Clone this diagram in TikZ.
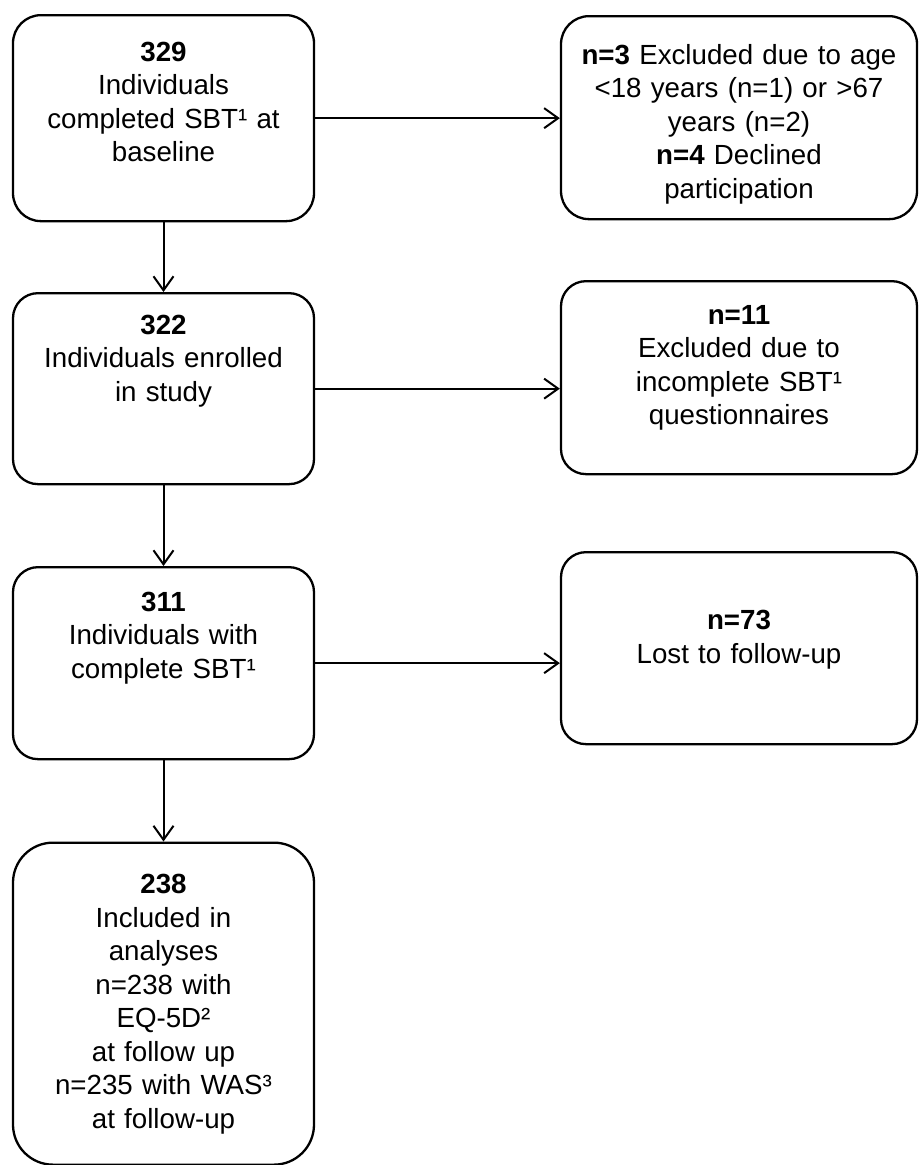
\documentclass[tikz,border=0pt]{standalone}
\usepackage{fontspec}
\setmainfont{Liberation Sans}
\usepackage{tikz}
\usetikzlibrary{arrows.meta}

\tikzset{
    box/.style={draw, line width=2.3pt, rounded corners=25pt, anchor=north, align=center,
        inner xsep=4pt, inner ysep=0pt, font=\fontsize{27.7pt}{33.5pt}\selectfont},
    leftbox/.style={box, text width=293pt},
    rightbox/.style={box, text width=348pt},
    flow/.style={line width=2pt, -{Straight Barb[length=14pt, width=20pt]}}
}

\begin{document}
\begin{tikzpicture}[x=1pt, y=-1pt]
    \useasboundingbox (0,0) rectangle (919,1165);
        \node [leftbox, rounded corners=28pt, text height=46pt, text depth=160pt] (b329) at (163.5,14) {\textbf{329}\\Individuals\\completed SBT¹ at\\baseline};
        \node [rightbox, rounded corners=28pt, text height=48pt, text depth=155pt] (excl1) at (739,15) {\textbf{n=3} Excluded due to age\\<18 years (n=1) or >67\\years (n=2)\\\textbf{n=4} Declined\\participation};
        \node [leftbox, text height=41pt, text depth=150pt] (b322) at (163.5,292) {\textbf{322}\\Individuals enrolled\\in study};
        \node [rightbox, text height=43pt, text depth=150pt] (excl2) at (739,280) {\textbf{n=11}\\Excluded due to\\incomplete SBT¹\\questionnaires};
        \node [leftbox, text height=44pt, text depth=148pt] (b311) at (163.5,566) {\textbf{311}\\Individuals with\\complete SBT¹};
        \node [rightbox, text height=77.5pt, text depth=114.5pt] (excl3) at (739,551) {\textbf{n=73}\\Lost to follow-up};
        \node [leftbox, rounded corners=40pt, text height=51pt, text depth=271pt] (b238) at (163.5,841.5) {\textbf{238}\\Included in\\analyses\\n=238 with\\EQ-5D²\\at follow up\\n=235 with WAS³\\at follow-up};
    \draw
        (b329) edge[flow] (b322)
        (b322) edge[flow] (b311)
        (b311) edge[flow] (b238)

        (b329.east) edge[flow] (b329.east -| excl1.west)
        (b322.east) edge[flow] (b322.east -| excl2.west)
        (b311.east) edge[flow] (b311.east -| excl3.west);
\end{tikzpicture}
\end{document}
